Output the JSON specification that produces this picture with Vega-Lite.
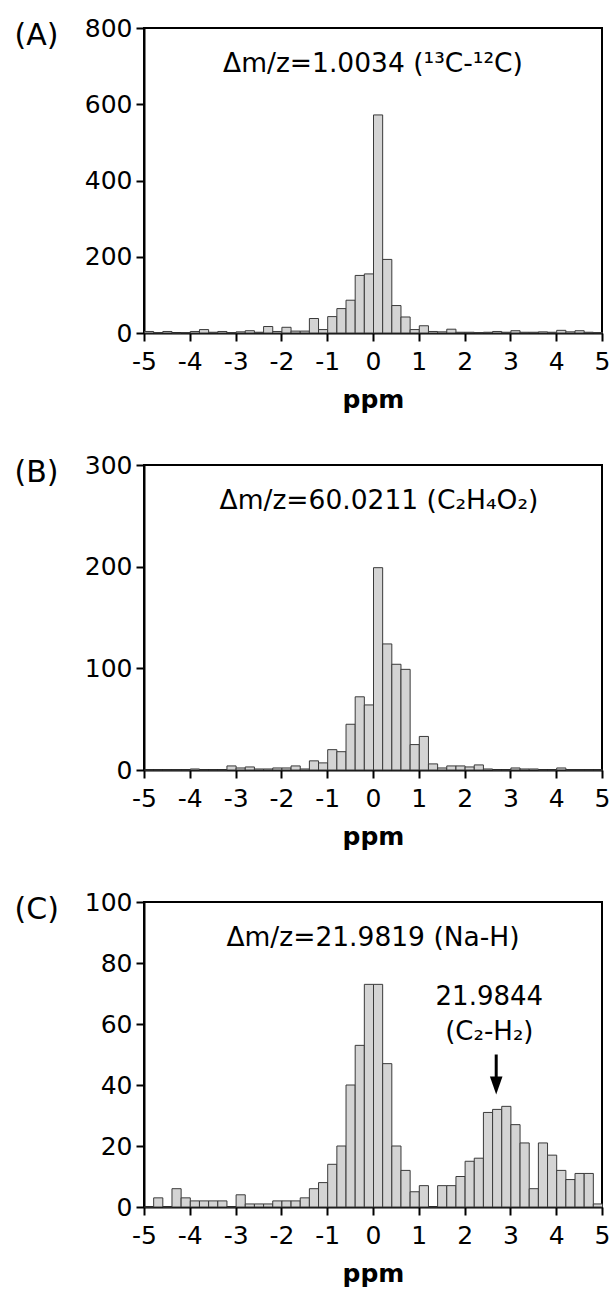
{
  "$schema": "https://vega.github.io/schema/vega-lite/v6.json",
  "padding": {"left": 13, "top": 15, "right": 0, "bottom": 0},
  "background": "white",
  "datasets": {
    "bins": [
      {"x0": -5, "x1": -4.8, "a": 4, "b": 0, "c": 0},
      {"x0": -4.8, "x1": -4.6, "a": 1, "b": 0, "c": 3},
      {"x0": -4.6, "x1": -4.4, "a": 4, "b": 0, "c": 0},
      {"x0": -4.4, "x1": -4.2, "a": 0, "b": 0, "c": 6},
      {"x0": -4.2, "x1": -4, "a": 1, "b": 0, "c": 3},
      {"x0": -4, "x1": -3.8, "a": 4, "b": 1, "c": 2},
      {"x0": -3.8, "x1": -3.6, "a": 9, "b": 0, "c": 2},
      {"x0": -3.6, "x1": -3.4, "a": 2, "b": 0, "c": 2},
      {"x0": -3.4, "x1": -3.2, "a": 4, "b": 0, "c": 2},
      {"x0": -3.2, "x1": -3, "a": 1, "b": 4, "c": 0},
      {"x0": -3, "x1": -2.8, "a": 3, "b": 2, "c": 4},
      {"x0": -2.8, "x1": -2.6, "a": 6, "b": 3, "c": 1},
      {"x0": -2.6, "x1": -2.4, "a": 2, "b": 1, "c": 1},
      {"x0": -2.4, "x1": -2.2, "a": 17, "b": 1, "c": 1},
      {"x0": -2.2, "x1": -2, "a": 4, "b": 2, "c": 2},
      {"x0": -2, "x1": -1.8, "a": 15, "b": 2, "c": 2},
      {"x0": -1.8, "x1": -1.6, "a": 5, "b": 4, "c": 2},
      {"x0": -1.6, "x1": -1.4, "a": 5, "b": 1, "c": 3},
      {"x0": -1.4, "x1": -1.2, "a": 38, "b": 9, "c": 6},
      {"x0": -1.2, "x1": -1, "a": 9, "b": 7, "c": 8},
      {"x0": -1, "x1": -0.8, "a": 43, "b": 20, "c": 14},
      {"x0": -0.8, "x1": -0.6, "a": 64, "b": 18, "c": 20},
      {"x0": -0.6, "x1": -0.4, "a": 86, "b": 45, "c": 40},
      {"x0": -0.4, "x1": -0.2, "a": 151, "b": 72, "c": 53},
      {"x0": -0.2, "x1": 0, "a": 155, "b": 64, "c": 73},
      {"x0": 0, "x1": 0.2, "a": 572, "b": 199, "c": 73},
      {"x0": 0.2, "x1": 0.4, "a": 193, "b": 124, "c": 47},
      {"x0": 0.4, "x1": 0.6, "a": 72, "b": 104, "c": 20},
      {"x0": 0.6, "x1": 0.8, "a": 42, "b": 99, "c": 12},
      {"x0": 0.8, "x1": 1, "a": 9, "b": 25, "c": 5},
      {"x0": 1, "x1": 1.2, "a": 19, "b": 33, "c": 7},
      {"x0": 1.2, "x1": 1.4, "a": 4, "b": 6, "c": 0},
      {"x0": 1.4, "x1": 1.6, "a": 3, "b": 2, "c": 7},
      {"x0": 1.6, "x1": 1.8, "a": 10, "b": 4, "c": 7},
      {"x0": 1.8, "x1": 2, "a": 2, "b": 4, "c": 10},
      {"x0": 2, "x1": 2.2, "a": 2, "b": 3, "c": 15},
      {"x0": 2.2, "x1": 2.4, "a": 1, "b": 5, "c": 16},
      {"x0": 2.4, "x1": 2.6, "a": 2, "b": 1, "c": 31},
      {"x0": 2.6, "x1": 2.8, "a": 4, "b": 0, "c": 32},
      {"x0": 2.8, "x1": 3, "a": 2, "b": 0, "c": 33},
      {"x0": 3, "x1": 3.2, "a": 6, "b": 2, "c": 27},
      {"x0": 3.2, "x1": 3.4, "a": 2, "b": 1, "c": 21},
      {"x0": 3.4, "x1": 3.6, "a": 2, "b": 1, "c": 6},
      {"x0": 3.6, "x1": 3.8, "a": 3, "b": 0, "c": 21},
      {"x0": 3.8, "x1": 4, "a": 2, "b": 0, "c": 17},
      {"x0": 4, "x1": 4.2, "a": 7, "b": 2, "c": 12},
      {"x0": 4.2, "x1": 4.4, "a": 3, "b": 0, "c": 9},
      {"x0": 4.4, "x1": 4.6, "a": 6, "b": 0, "c": 11},
      {"x0": 4.6, "x1": 4.8, "a": 2, "b": 0, "c": 11},
      {"x0": 4.8, "x1": 5, "a": 1, "b": 0, "c": 1}
    ],
    "note": [{"label": "C2-H2"}]
  },
  "vconcat": [
    {
      "width": 458, "height": 305,
      "data": {"name": "bins"},
      "title": {"text": "Δm/z=1.0034 (¹³C-¹²C)", "offset": -61},
      "mark": {"type": "bar", "fill": "#d4d4d4", "stroke": "#3a3a3a", "strokeWidth": 1, "binSpacing": 0},
      "encoding": {
        "x": {"field": "x0", "type": "quantitative", "bin": "binned", "scale": {"domain": [-5, 5], "nice": false},
              "axis": {"values": [-5, -4, -3, -2, -1, 0, 1, 2, 3, 4, 5], "title": "ppm", "labelExpr": "'' + datum.value"}},
        "x2": {"field": "x1"},
        "y": {"field": "a", "type": "quantitative", "scale": {"domain": [0, 800], "nice": false},
              "axis": {"values": [0, 200, 400, 600, 800], "title": "(A)"}}
      }
    },
    {
      "width": 458, "height": 305,
      "data": {"name": "bins"},
      "title": {"text": "Δm/z=60.0211 (C₂H₄O₂)", "offset": -61, "dx": 6},
      "mark": {"type": "bar", "fill": "#d4d4d4", "stroke": "#3a3a3a", "strokeWidth": 1, "binSpacing": 0},
      "encoding": {
        "x": {"field": "x0", "type": "quantitative", "bin": "binned", "scale": {"domain": [-5, 5], "nice": false},
              "axis": {"values": [-5, -4, -3, -2, -1, 0, 1, 2, 3, 4, 5], "title": "ppm", "labelExpr": "'' + datum.value"}},
        "x2": {"field": "x1"},
        "y": {"field": "b", "type": "quantitative", "scale": {"domain": [0, 300], "nice": false},
              "axis": {"values": [0, 100, 200, 300], "title": "(B)"}}
      }
    },
    {
      "width": 458, "height": 305,
      "title": {"text": "Δm/z=21.9819 (Na-H)", "offset": -61},
      "layer": [
        {
          "data": {"name": "bins"},
          "mark": {"type": "bar", "fill": "#d4d4d4", "stroke": "#3a3a3a", "strokeWidth": 1, "binSpacing": 0},
          "encoding": {
            "x": {"field": "x0", "type": "quantitative", "bin": "binned", "scale": {"domain": [-5, 5], "nice": false},
                  "axis": {"values": [-5, -4, -3, -2, -1, 0, 1, 2, 3, 4, 5], "title": "ppm", "labelExpr": "'' + datum.value"}},
            "x2": {"field": "x1"},
            "y": {"field": "c", "type": "quantitative", "scale": {"domain": [0, 100], "nice": false},
                  "axis": {"values": [0, 20, 40, 60, 80, 100], "title": "(C)"}}
          }
        },
        {
          "data": {"name": "note"},
          "mark": {"type": "text", "fontSize": 26, "font": "DejaVu Sans", "color": "black", "baseline": "middle", "align": "center"},
          "encoding": {"x": {"datum": 2.54, "type": "quantitative"}, "y": {"datum": 69, "type": "quantitative"}, "text": {"value": "21.9844"}}
        },
        {
          "data": {"name": "note"},
          "mark": {"type": "text", "fontSize": 26, "font": "DejaVu Sans", "color": "black", "baseline": "middle", "align": "center"},
          "encoding": {"x": {"datum": 2.54, "type": "quantitative"}, "y": {"datum": 57.5, "type": "quantitative"}, "text": {"value": "(C₂-H₂)"}}
        },
        {
          "data": {"name": "note"},
          "mark": {"type": "rule", "strokeWidth": 3, "color": "black"},
          "encoding": {"x": {"datum": 2.69, "type": "quantitative"}, "y": {"datum": 50, "type": "quantitative"}, "y2": {"datum": 41}}
        },
        {
          "data": {"name": "note"},
          "mark": {"type": "point", "shape": "M-0.7,-1L0.7,-1L0,1Z", "filled": true, "color": "black", "size": 324, "opacity": 1},
          "encoding": {"x": {"datum": 2.69, "type": "quantitative"}, "y": {"datum": 39.8, "type": "quantitative"}}
        }
      ]
    }
  ],
  "spacing": 132,
  "bounds": "flush",
  "config": {
    "font": "DejaVu Sans",
    "view": {"stroke": "black", "strokeWidth": 2},
    "axis": {
      "domainColor": "black", "domainWidth": 2, "tickColor": "black", "tickWidth": 2, "tickSize": 8,
      "labelFont": "DejaVu Sans", "labelFontSize": 25, "labelColor": "black", "grid": false,
      "titleFont": "DejaVu Sans", "titleColor": "black", "labelOverlap": false
    },
    "axisX": {"labelPadding": 8, "labelFlush": false, "titleFontSize": 25, "titleFontWeight": "bold", "titlePadding": 13},
    "axisY": {"labelPadding": 4, "titleAngle": 0, "titleAlign": "left", "titleBaseline": "middle", "titleX": -130, "titleY": 7, "titleFontSize": 30, "titleFontWeight": "normal"},
    "title": {"font": "DejaVu Sans", "fontSize": 26.5, "fontWeight": "normal", "color": "black", "anchor": "middle", "baseline": "middle", "frame": "group"}
  }
}
